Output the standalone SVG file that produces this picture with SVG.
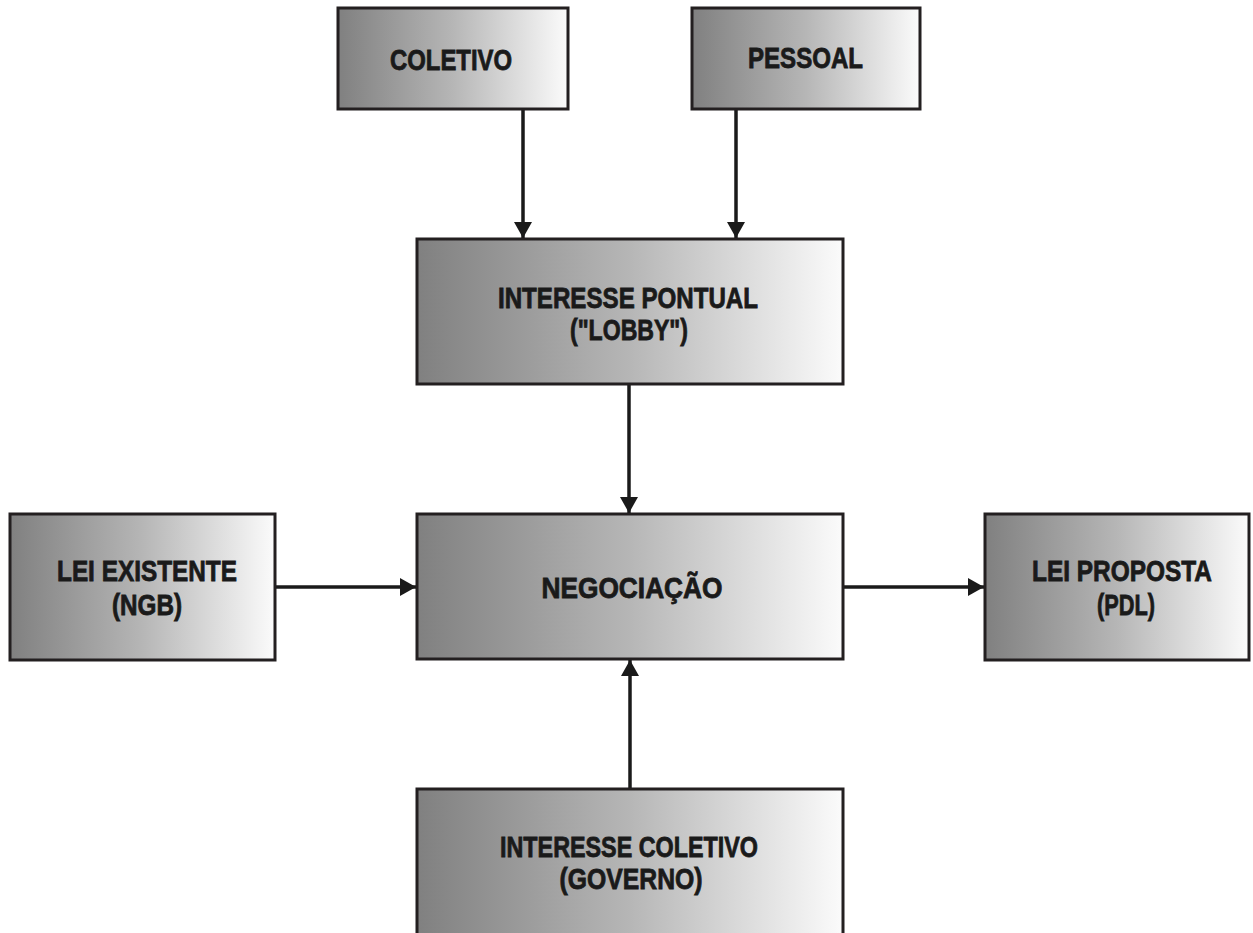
<svg xmlns="http://www.w3.org/2000/svg" width="1253" height="933" viewBox="0 0 1253 933">
<defs>
<linearGradient id="g" x1="0" y1="0" x2="1" y2="0">
<stop offset="0" stop-color="#808080"/>
<stop offset="0.5" stop-color="#b6b6b6"/>
<stop offset="1" stop-color="#fbfbfb"/>
</linearGradient>
<marker id="ah" viewBox="0 0 16 18" refX="16" refY="9" markerWidth="16" markerHeight="18" markerUnits="userSpaceOnUse" orient="auto">
<path d="M0,0 L16,9 L0,18 z" fill="#1a1a1a"/>
</marker>
</defs>
<style>
.box{fill:url(#g);stroke:#231f20;stroke-width:3}
.t{font-family:"Liberation Sans",Arial,sans-serif;font-weight:bold;font-size:29px;fill:#1a1a1a;stroke:#1a1a1a;stroke-width:0.8;text-anchor:middle}
.c{fill:none;stroke:#1a1a1a;stroke-width:3.5;marker-end:url(#ah)}
</style>
<rect width="1253" height="933" fill="#fff"/>
<g id="connectors">
<path class="c" d="M523,110 V238"/>
<path class="c" d="M736,110 V238"/>
<path class="c" d="M629,384 V513"/>
<path class="c" d="M275,587 H416"/>
<path class="c" d="M843,587 H984"/>
<path class="c" d="M630,788 V660"/>
</g>
<g id="n-coletivo">
<rect class="box" x="338" y="8" width="230" height="101"/>
<text class="t" x="451" y="70" textLength="122" lengthAdjust="spacingAndGlyphs">COLETIVO</text>
</g>
<g id="n-pessoal">
<rect class="box" x="692" y="8" width="228" height="101"/>
<text class="t" x="805.5" y="68" textLength="115" lengthAdjust="spacingAndGlyphs">PESSOAL</text>
</g>
<g id="n-lobby">
<rect class="box" x="417" y="239" width="426" height="145"/>
<text class="t" x="628" y="308" textLength="260" lengthAdjust="spacingAndGlyphs">INTERESSE PONTUAL</text>
<text class="t" x="629" y="340" textLength="118" lengthAdjust="spacingAndGlyphs">("LOBBY")</text>
</g>
<g id="n-negociacao">
<rect class="box" x="417" y="514" width="426" height="145"/>
<text class="t" x="632" y="598" textLength="181" lengthAdjust="spacingAndGlyphs">NEGOCIAÇÃO</text>
</g>
<g id="n-lei-existente">
<rect class="box" x="10" y="514" width="265" height="146"/>
<text class="t" x="147" y="581" textLength="180" lengthAdjust="spacingAndGlyphs">LEI EXISTENTE</text>
<text class="t" x="147" y="615" textLength="70" lengthAdjust="spacingAndGlyphs">(NGB)</text>
</g>
<g id="n-lei-proposta">
<rect class="box" x="985" y="514" width="264" height="146"/>
<text class="t" x="1122" y="581" textLength="180" lengthAdjust="spacingAndGlyphs">LEI PROPOSTA</text>
<text class="t" x="1126" y="615" textLength="58" lengthAdjust="spacingAndGlyphs">(PDL)</text>
</g>
<g id="n-interesse-coletivo">
<rect class="box" x="417" y="789" width="426" height="160"/>
<text class="t" x="629" y="857" textLength="258" lengthAdjust="spacingAndGlyphs">INTERESSE COLETIVO</text>
<text class="t" x="631" y="889" textLength="143" lengthAdjust="spacingAndGlyphs">(GOVERNO)</text>
</g>
</svg>
